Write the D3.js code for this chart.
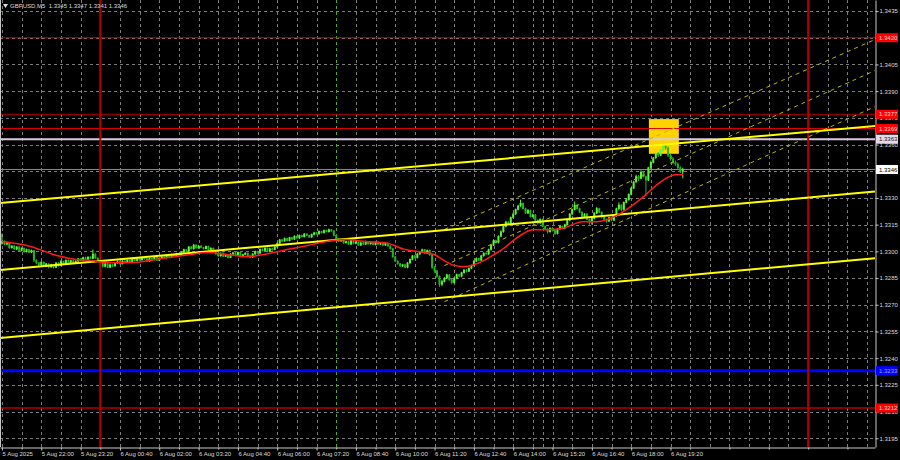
<!DOCTYPE html>
<html><head><meta charset="utf-8">
<script src="https://cdn.jsdelivr.net/npm/d3@7"></script>
<style>html,body{margin:0;padding:0;background:#000;}svg{display:block;}</style>
</head><body>
<svg id="c" width="900" height="460"></svg>
<script>
// ---------- DATA ----------
const symbolTitle = "GBPUSD,M5";
const lastQuote = ["1.3345", "1.3347", "1.3341", "1.3346"];

const opens = [
1.33045,1.33055,1.33040,1.33048,1.33020,1.33030,1.33012,1.33025,1.33005,1.33018,
1.32998,1.33010,1.32995,1.33005,1.32950,1.32935,1.32925,1.32940,1.32918,1.32930,
1.32912,1.32925,1.32910,1.32935,1.32920,1.32945,1.32930,1.32950,1.32938,1.32948,
1.32935,1.32945,1.32958,1.32950,1.32965,1.32955,1.32968,1.32960,1.32985,1.32962,
1.32950,1.32935,1.32915,1.32930,1.32910,1.32925,1.32918,1.32935,1.32942,1.32930,
1.32945,1.32938,1.32950,1.32940,1.32955,1.32948,1.32960,1.32952,1.32965,1.32958,
1.32945,1.32960,1.32955,1.32968,1.32950,1.32962,1.32970,1.32965,1.32978,1.32970,
1.32982,1.32975,1.32988,1.32980,1.32995,1.33010,1.33000,1.33025,1.33015,1.33035,
1.33020,1.33030,1.33022,1.33015,1.33028,1.33010,1.33018,1.33002,1.32985,1.32975,
1.32990,1.32972,1.32980,1.32965,1.32985,1.32992,1.32978,1.32995,1.32970,1.32982,
1.32990,1.32975,1.32968,1.32985,1.33000,1.32990,1.33012,1.33005,1.33018,1.33000,
1.33015,1.33010,1.33025,1.33045,1.33065,1.33058,1.33072,1.33060,1.33078,1.33068,
1.33085,1.33075,1.33090,1.33082,1.33098,1.33090,1.33080,1.33095,1.33105,1.33098,
1.33112,1.33105,1.33118,1.33110,1.33122,1.33115,1.33090,1.33070,1.33058,1.33065,
1.33048,1.33055,1.33040,1.33060,1.33045,1.33052,1.33035,1.33048,1.33040,1.33055,
1.33042,1.33050,1.33038,1.33052,1.33040,1.33048,1.33035,1.33045,1.33030,1.33015,
1.32970,1.32945,1.32930,1.32918,1.32925,1.32910,1.32935,1.32955,1.32975,1.32965,
1.32985,1.32995,1.33010,1.32990,1.33005,1.32980,1.32910,1.32890,1.32860,1.32815,
1.32830,1.32850,1.32868,1.32840,1.32825,1.32850,1.32870,1.32860,1.32880,1.32895,
1.32888,1.32905,1.32920,1.32945,1.32960,1.32950,1.32975,1.32990,1.32985,1.33010,
1.33035,1.33060,1.33050,1.33085,1.33110,1.33140,1.33165,1.33155,1.33190,1.33210,
1.33235,1.33255,1.33270,1.33240,1.33215,1.33230,1.33195,1.33205,1.33175,1.33160,
1.33180,1.33140,1.33125,1.33110,1.33130,1.33118,1.33100,1.33125,1.33140,1.33130,
1.33150,1.33175,1.33210,1.33235,1.33260,1.33240,1.33220,1.33195,1.33210,1.33180,
1.33165,1.33185,1.33215,1.33240,1.33220,1.33195,1.33180,1.33170,1.33190,1.33175,
1.33200,1.33240,1.33260,1.33235,1.33275,1.33290,1.33320,1.33355,1.33390,1.33420,
1.33410,1.33445,1.33420,1.33400,1.33470,1.33500,1.33525,1.33550,1.33540,1.33565,
1.33590,1.33580,1.33540,1.33520,1.33500,1.33490,1.33470,1.33450];

const highs = [
1.33100,1.33062,1.33055,1.33052,1.33035,1.33036,1.33030,1.33028,1.33022,1.33022,
1.33015,1.33014,1.33010,1.33008,1.32956,1.32940,1.32945,1.32942,1.32935,1.32934,
1.32930,1.32928,1.32940,1.32938,1.32950,1.32948,1.32955,1.32955,1.32952,1.32952,
1.32950,1.32962,1.32962,1.32970,1.32970,1.32972,1.32972,1.33010,1.32990,1.32966,
1.32955,1.32940,1.32935,1.32934,1.32930,1.32930,1.32940,1.32948,1.32946,1.32950,
1.32950,1.32955,1.32954,1.32960,1.32958,1.32964,1.32964,1.32970,1.32968,1.32962,
1.32965,1.32964,1.32972,1.32972,1.32966,1.32975,1.32975,1.32982,1.32982,1.32986,
1.32986,1.32992,1.32992,1.33000,1.33015,1.33014,1.33030,1.33030,1.33042,1.33040,
1.33036,1.33035,1.33026,1.33032,1.33032,1.33022,1.33022,1.33006,1.32990,1.32994,
1.32995,1.32985,1.32984,1.32990,1.32998,1.32996,1.33000,1.32998,1.32986,1.32995,
1.32994,1.32980,1.32990,1.33005,1.33004,1.33016,1.33016,1.33022,1.33022,1.33020,
1.33020,1.33030,1.33050,1.33070,1.33070,1.33078,1.33076,1.33082,1.33082,1.33090,
1.33090,1.33095,1.33095,1.33102,1.33102,1.33094,1.33100,1.33110,1.33110,1.33118,
1.33116,1.33122,1.33122,1.33128,1.33126,1.33118,1.33094,1.33075,1.33070,1.33070,
1.33060,1.33060,1.33065,1.33064,1.33058,1.33056,1.33052,1.33052,1.33060,1.33058,
1.33055,1.33054,1.33056,1.33056,1.33052,1.33052,1.33050,1.33048,1.33034,1.33020,
1.32975,1.32950,1.32935,1.32930,1.32930,1.32940,1.32960,1.32980,1.32980,1.32990,
1.33000,1.33015,1.33014,1.33010,1.33010,1.32985,1.32918,1.32895,1.32865,1.32840,
1.32855,1.32875,1.32872,1.32845,1.32855,1.32875,1.32875,1.32885,1.32900,1.32900,
1.32910,1.32925,1.32950,1.32965,1.32965,1.32980,1.32995,1.32995,1.33015,1.33040,
1.33068,1.33066,1.33090,1.33118,1.33145,1.33172,1.33170,1.33195,1.33218,1.33240,
1.33262,1.33290,1.33275,1.33245,1.33238,1.33235,1.33212,1.33210,1.33180,1.33185,
1.33185,1.33145,1.33130,1.33135,1.33135,1.33122,1.33130,1.33145,1.33145,1.33155,
1.33180,1.33215,1.33240,1.33280,1.33265,1.33245,1.33225,1.33215,1.33215,1.33185,
1.33190,1.33220,1.33250,1.33245,1.33225,1.33200,1.33185,1.33195,1.33195,1.33205,
1.33245,1.33275,1.33265,1.33280,1.33300,1.33325,1.33360,1.33395,1.33430,1.33428,
1.33455,1.33452,1.33425,1.33475,1.33510,1.33530,1.33560,1.33558,1.33575,1.33610,
1.33605,1.33590,1.33550,1.33530,1.33510,1.33500,1.33478,1.33470];

const lows = [
1.33038,1.33035,1.33036,1.33015,1.33016,1.33008,1.33008,1.33000,1.33000,1.32992,
1.32994,1.32990,1.32990,1.32940,1.32928,1.32918,1.32920,1.32912,1.32914,1.32905,
1.32908,1.32904,1.32906,1.32915,1.32916,1.32925,1.32926,1.32932,1.32934,1.32930,
1.32930,1.32940,1.32945,1.32946,1.32950,1.32950,1.32956,1.32956,1.32958,1.32944,
1.32930,1.32910,1.32910,1.32905,1.32906,1.32912,1.32914,1.32930,1.32926,1.32926,
1.32932,1.32934,1.32936,1.32936,1.32944,1.32944,1.32948,1.32948,1.32954,1.32940,
1.32940,1.32950,1.32950,1.32946,1.32946,1.32958,1.32960,1.32960,1.32965,1.32966,
1.32970,1.32970,1.32976,1.32976,1.32990,1.32995,1.32996,1.33010,1.33010,1.33015,
1.33015,1.33018,1.33010,1.33012,1.33005,1.33006,1.32998,1.32980,1.32968,1.32970,
1.32968,1.32968,1.32960,1.32962,1.32980,1.32974,1.32975,1.32966,1.32966,1.32978,
1.32970,1.32962,1.32964,1.32980,1.32986,1.32986,1.33000,1.33000,1.32995,1.32996,
1.33004,1.33006,1.33020,1.33040,1.33052,1.33054,1.33056,1.33056,1.33064,1.33064,
1.33070,1.33070,1.33078,1.33078,1.33086,1.33075,1.33076,1.33090,1.33094,1.33094,
1.33100,1.33100,1.33106,1.33106,1.33110,1.33085,1.33065,1.33052,1.33054,1.33042,
1.33044,1.33036,1.33036,1.33040,1.33040,1.33030,1.33030,1.33036,1.33036,1.33038,
1.33038,1.33034,1.33034,1.33036,1.33036,1.33030,1.33030,1.33026,1.33010,1.32962,
1.32940,1.32925,1.32912,1.32912,1.32905,1.32905,1.32930,1.32950,1.32960,1.32960,
1.32980,1.32990,1.32985,1.32985,1.32975,1.32900,1.32880,1.32850,1.32800,1.32805,
1.32825,1.32845,1.32835,1.32815,1.32820,1.32845,1.32855,1.32855,1.32875,1.32882,
1.32884,1.32900,1.32915,1.32940,1.32945,1.32945,1.32970,1.32980,1.32980,1.33005,
1.33030,1.33044,1.33045,1.33080,1.33105,1.33135,1.33150,1.33150,1.33185,1.33205,
1.33230,1.33250,1.33235,1.33210,1.33210,1.33190,1.33190,1.33170,1.33150,1.33155,
1.33135,1.33120,1.33100,1.33105,1.33112,1.33092,1.33095,1.33120,1.33125,1.33125,
1.33145,1.33170,1.33205,1.33230,1.33235,1.33215,1.33190,1.33190,1.33175,1.33150,
1.33150,1.33180,1.33210,1.33215,1.33185,1.33170,1.33160,1.33165,1.33170,1.33170,
1.33195,1.33230,1.33225,1.33230,1.33270,1.33285,1.33315,1.33350,1.33385,1.33395,
1.33405,1.33415,1.33310,1.33395,1.33460,1.33495,1.33520,1.33530,1.33535,1.33560,
1.33570,1.33530,1.33510,1.33490,1.33480,1.33460,1.33440,1.33410];

const closes = [
1.33055,1.33040,1.33048,1.33020,1.33030,1.33012,1.33025,1.33005,1.33018,1.32998,
1.33010,1.32995,1.33005,1.32950,1.32935,1.32925,1.32940,1.32918,1.32930,1.32912,
1.32925,1.32910,1.32935,1.32920,1.32945,1.32930,1.32950,1.32938,1.32948,1.32935,
1.32945,1.32958,1.32950,1.32965,1.32955,1.32968,1.32960,1.32985,1.32962,1.32950,
1.32935,1.32915,1.32930,1.32910,1.32925,1.32918,1.32935,1.32942,1.32930,1.32945,
1.32938,1.32950,1.32940,1.32955,1.32948,1.32960,1.32952,1.32965,1.32958,1.32945,
1.32960,1.32955,1.32968,1.32950,1.32962,1.32970,1.32965,1.32978,1.32970,1.32982,
1.32975,1.32988,1.32980,1.32995,1.33010,1.33000,1.33025,1.33015,1.33035,1.33020,
1.33030,1.33022,1.33015,1.33028,1.33010,1.33018,1.33002,1.32985,1.32975,1.32990,
1.32972,1.32980,1.32965,1.32985,1.32992,1.32978,1.32995,1.32970,1.32982,1.32990,
1.32975,1.32968,1.32985,1.33000,1.32990,1.33012,1.33005,1.33018,1.33000,1.33015,
1.33010,1.33025,1.33045,1.33065,1.33058,1.33072,1.33060,1.33078,1.33068,1.33085,
1.33075,1.33090,1.33082,1.33098,1.33090,1.33080,1.33095,1.33105,1.33098,1.33112,
1.33105,1.33118,1.33110,1.33122,1.33115,1.33090,1.33070,1.33058,1.33065,1.33048,
1.33055,1.33040,1.33060,1.33045,1.33052,1.33035,1.33048,1.33040,1.33055,1.33042,
1.33050,1.33038,1.33052,1.33040,1.33048,1.33035,1.33045,1.33030,1.33015,1.32970,
1.32945,1.32930,1.32918,1.32925,1.32910,1.32935,1.32955,1.32975,1.32965,1.32985,
1.32995,1.33010,1.32990,1.33005,1.32980,1.32910,1.32890,1.32860,1.32815,1.32830,
1.32850,1.32868,1.32840,1.32825,1.32850,1.32870,1.32860,1.32880,1.32895,1.32888,
1.32905,1.32920,1.32945,1.32960,1.32950,1.32975,1.32990,1.32985,1.33010,1.33035,
1.33060,1.33050,1.33085,1.33110,1.33140,1.33165,1.33155,1.33190,1.33210,1.33235,
1.33255,1.33270,1.33240,1.33215,1.33230,1.33195,1.33205,1.33175,1.33160,1.33180,
1.33140,1.33125,1.33110,1.33130,1.33118,1.33100,1.33125,1.33140,1.33130,1.33150,
1.33175,1.33210,1.33235,1.33260,1.33240,1.33220,1.33195,1.33210,1.33180,1.33165,
1.33185,1.33215,1.33240,1.33220,1.33195,1.33180,1.33170,1.33190,1.33175,1.33200,
1.33240,1.33260,1.33235,1.33275,1.33290,1.33320,1.33355,1.33390,1.33420,1.33410,
1.33445,1.33420,1.33400,1.33470,1.33500,1.33525,1.33550,1.33540,1.33565,1.33590,
1.33580,1.33540,1.33520,1.33500,1.33490,1.33470,1.33450,1.33460];

// moving average (red line)
const maBars = [0,12,20,28,36,44,52,60,68,76,84,92,100,108,116,124,132,140,148,156,164,170,176,180,184,188,192,196,200,204,208,212,216,222,228,232,236,242,246,250,254,258,262,266,270,274,277];
const maValues = [1.33055,1.33026,1.32987,1.32959,1.32948,1.32936,1.32936,1.32948,1.32965,1.32981,1.32993,1.32981,1.32970,1.32987,1.33010,1.33032,1.33055,1.33066,1.33055,1.33049,1.33010,1.32998,1.32981,1.32948,1.32920,1.32914,1.32925,1.32948,1.32981,1.33015,1.33060,1.33099,1.33122,1.33122,1.33128,1.33150,1.33167,1.33167,1.33178,1.33201,1.33234,1.33274,1.33319,1.33369,1.33409,1.33431,1.33431];

const priceTicks = [1.3435,1.3420,1.3405,1.3390,1.3375,1.3360,1.3345,1.3330,1.3315,1.3300,1.3285,1.3270,1.3255,1.3240,1.3225,1.3210,1.3195];
const timeLabels = ["5 Aug 2025","5 Aug 22:00","5 Aug 23:20","6 Aug 00:40","6 Aug 02:00","6 Aug 03:20","6 Aug 04:40","6 Aug 06:00","6 Aug 07:20","6 Aug 08:40","6 Aug 10:00","6 Aug 11:20","6 Aug 12:40","6 Aug 14:00","6 Aug 15:20","6 Aug 16:40","6 Aug 18:00","6 Aug 19:20"];

const levelPrices = [1.3420, 1.3377, 1.3369, 1.3363, 1.3346, 1.3233, 1.3212];
const dayBreakBars = [40, 328];
const sessionBars = [136, 220];

const trendBars = [-0.8, 355.2];
const trendStartPrices = [1.33271, 1.32895, 1.32513];
const trendEndPrices = [1.33704, 1.33336, 1.32962];

const channelBars = [180, 355.2];
const channelStartPrices = [1.33123, 1.32920, 1.32717];
const channelEndPrices = [1.34190, 1.34016, 1.33813];

const zoneBars = [263.2, 275.4];
const zonePrices = [1.33743, 1.33548];

// ---------- CHART ----------
const W = 875, H = 447;
const FONT = "'Liberation Sans', Arial, sans-serif";
const svg = d3.select("#c");
svg.append("rect").attr("width", 900).attr("height", 460).attr("fill", "#000");

const x = d3.scaleLinear().domain([-0.8, 355.2]).range([0, W]);
const y = d3.scaleLinear().domain([1.31901, 1.34412]).range([H, 0]);
const px = v => Math.round(v) + 0.5;

svg.append("defs").append("clipPath").attr("id", "plotclip")
  .append("rect").attr("x", 0).attr("y", 0).attr("width", W).attr("height", H);
const plot = svg.append("g").attr("clip-path", "url(#plotclip)");

// grid
const gridColor = "#7c7c7c";
plot.append("g").selectAll("line").data(priceTicks).join("line")
  .attr("x1", 0).attr("x2", W).attr("y1", d => px(y(d))).attr("y2", d => px(y(d)))
  .attr("stroke", gridColor).attr("stroke-width", 1).attr("stroke-dasharray", "3,3");
const gridBars = d3.range(0, 356, 8);
plot.append("g").selectAll("line").data(gridBars).join("line")
  .attr("x1", d => px(x(d))).attr("x2", d => px(x(d))).attr("y1", 0).attr("y2", H)
  .attr("stroke", gridColor).attr("stroke-width", 1).attr("stroke-dasharray", "3,3");

// session separators
plot.append("g").selectAll("line").data(sessionBars).join("line")
  .attr("x1", d => px(x(d))).attr("x2", d => px(x(d))).attr("y1", 0).attr("y2", H)
  .attr("stroke", "#5aa62a").attr("stroke-width", 1).attr("stroke-dasharray", "3,3");

// zone box
plot.append("rect")
  .attr("x", x(zoneBars[0])).attr("width", x(zoneBars[1]) - x(zoneBars[0]))
  .attr("y", y(zonePrices[0])).attr("height", y(zonePrices[1]) - y(zonePrices[0]))
  .attr("fill", "#ffd200");

// horizontal levels
const levelStyle = [
  {c: "#d00000", w: 1}, {c: "#b00000", w: 1}, {c: "#e00000", w: 1},
  {c: "#d8c8e0", w: 2}, {c: "#8a8a8a", w: 1}, {c: "#0000ff", w: 3}, {c: "#b40000", w: 1.5}];
plot.append("g").selectAll("line").data(levelPrices).join("line")
  .attr("x1", 0).attr("x2", W)
  .attr("y1", d => y(d)).attr("y2", d => y(d))
  .attr("stroke", (d, i) => levelStyle[i].c).attr("stroke-width", (d, i) => levelStyle[i].w);

// candles
const bull = "#5cf53c", bear = "#24b424";
const bars = closes.map((c, i) => ({i, o: opens[i], h: highs[i], l: lows[i], c}));
const cg = plot.append("g");
cg.selectAll("line").data(bars).join("line")
  .attr("x1", d => x(d.i)).attr("x2", d => x(d.i))
  .attr("y1", d => y(d.h)).attr("y2", d => y(d.l))
  .attr("stroke", d => d.c >= d.o ? bull : bear).attr("stroke-width", 1);
cg.selectAll("rect").data(bars).join("rect")
  .attr("x", d => x(d.i) - 1).attr("width", 2)
  .attr("y", d => Math.min(y(d.o), y(d.c)) - 0.3)
  .attr("height", d => Math.max(1.2, Math.abs(y(d.o) - y(d.c)) + 0.6))
  .attr("fill", d => d.c >= d.o ? bull : bear);

// day breaks
plot.append("g").selectAll("line").data(dayBreakBars).join("line")
  .attr("x1", d => x(d)).attr("x2", d => x(d)).attr("y1", 0).attr("y2", H)
  .attr("stroke", "#b40000").attr("stroke-width", 2);

// regression channel (dashed)
plot.append("g").selectAll("line").data(channelStartPrices).join("line")
  .attr("x1", x(channelBars[0])).attr("x2", x(channelBars[1]))
  .attr("y1", d => y(d)).attr("y2", (d, i) => y(channelEndPrices[i]))
  .attr("stroke", "#b8b800").attr("stroke-width", 1).attr("stroke-dasharray", "4,4");

// trend lines
plot.append("g").selectAll("line").data(trendStartPrices).join("line")
  .attr("x1", x(trendBars[0])).attr("x2", x(trendBars[1]))
  .attr("y1", d => y(d)).attr("y2", (d, i) => y(trendEndPrices[i]))
  .attr("stroke", "#ffff00").attr("stroke-width", 2);

// moving average
plot.append("path")
  .datum(maBars.map((b, i) => [b, maValues[i]]))
  .attr("fill", "none").attr("stroke", "#ff1a1a").attr("stroke-width", 1.5)
  .attr("d", d3.line().x(d => x(d[0])).y(d => y(d[1])).curve(d3.curveMonotoneX));

// axes
const axisColor = "#c8c8c8";
const textColor = "#dcdcdc";
// tick labels hidden behind the level boxes are not shown (the boxes cover them)
const coveredTicks = [1.3345];
const yAxis = svg.append("g").attr("transform", `translate(${W + 0.5},0)`)
  .call(d3.axisRight(y).tickValues(priceTicks)
    .tickFormat(d => coveredTicks.includes(d) ? "" : d3.format(".4f")(d))
    .tickSize(3).tickSizeOuter(0).tickPadding(1));
yAxis.select(".domain").attr("stroke", axisColor);
yAxis.selectAll(".tick line").attr("stroke", axisColor);
yAxis.selectAll(".tick text").attr("fill", textColor)
  .style("font-family", FONT).style("font-size", "6px");

const timeTickBars = timeLabels.map((t, i) => i * 16);
const xAxis = svg.append("g").attr("transform", `translate(0,${H + 0.5})`)
  .call(d3.axisBottom(x).tickValues(timeTickBars).tickFormat((d, i) => timeLabels[i])
    .tickSize(3).tickSizeOuter(0).tickPadding(1));
xAxis.select(".domain").attr("stroke", axisColor);
xAxis.selectAll(".tick line").attr("stroke", axisColor);
xAxis.selectAll(".tick text").attr("fill", textColor).attr("text-anchor", "start")
  .style("font-family", FONT).style("font-size", "6px");
const xMinor = svg.append("g").attr("transform", `translate(0,${H + 0.5})`)
  .call(d3.axisBottom(x).tickValues(d3.range(8, 356, 16)).tickFormat("")
    .tickSize(2).tickSizeOuter(0));
xMinor.select(".domain").remove();
xMinor.selectAll(".tick line").attr("stroke", axisColor);

// left border
svg.append("line").attr("x1", 0.5).attr("x2", 0.5).attr("y1", 0).attr("y2", H)
  .attr("stroke", axisColor);

// level labels on price axis
const labelStyle = [
  {bg: "#ff0000", fg: "#ffd0d0"}, {bg: "#ff0000", fg: "#ffd0d0"}, {bg: "#ff0000", fg: "#ffd0d0"},
  {bg: "#e6d8ea", fg: "#202020"}, {bg: "#ffffff", fg: "#000000"}, {bg: "#0000ff", fg: "#a0a0ff"},
  {bg: "#ff0000", fg: "#ffd0d0"}];
const lab = svg.append("g").selectAll("g").data(levelPrices).join("g")
  .attr("transform", d => `translate(876,${y(d)})`);
lab.append("rect").attr("x", 0).attr("y", -4.5).attr("width", 22).attr("height", 9)
  .attr("fill", (d, i) => labelStyle[i].bg);
lab.append("text").attr("x", 3).attr("y", 0).attr("dy", "0.35em")
  .attr("fill", (d, i) => labelStyle[i].fg)
  .style("font-family", FONT).style("font-size", "6px")
  .text(d => d3.format(".4f")(d));

// title
svg.append("path").attr("d", "M3,4 L8,4 L5.5,8 Z").attr("fill", textColor);
svg.append("text").attr("x", 10).attr("y", 8)
  .attr("fill", textColor).style("font-family", FONT).style("font-size", "6px")
  .style("white-space", "pre")
  .text(symbolTitle + "  " + lastQuote.join(" "));
</script>
</body></html>
